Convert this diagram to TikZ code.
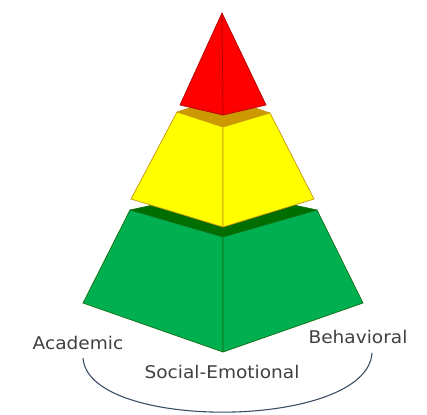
\documentclass[tikz,border=0pt]{standalone}
\usepackage{fontspec}
\setmainfont{DejaVu Sans}[FakeStretch=1.06]
\begin{document}
\begin{tikzpicture}[x=1pt,y=-1pt]

			% Styles
			\tikzset{
				face/.style={
					line join=round, line width=0.7pt,
					fill=#1,
				},
				label/.style={
					text=labelgray, inner sep=0pt,
					font=\fontsize{17.5}{20}\selectfont,
				},
			}

			% Colors
			\definecolor{redface}{RGB}{255,0,0}
			\definecolor{redline}{RGB}{180,0,0}
			\definecolor{yellowface}{RGB}{255,255,0}
			\definecolor{yellowtop}{RGB}{204,153,0}
			\definecolor{yellowline}{RGB}{200,150,20}
			\definecolor{greenface}{RGB}{0,176,80}
			\definecolor{greentop}{RGB}{0,110,0}
			\definecolor{greenline}{RGB}{20,110,20}
			\definecolor{labelgray}{RGB}{64,64,64}
			\definecolor{arcblue}{RGB}{60,78,100}

			\useasboundingbox (0,0) rectangle (427,414);

			% Green tier (bottom)
			\filldraw[face=greentop, draw=greenline] (130,210) -- (223,190) -- (317,210) -- (223,237) -- cycle;
			\filldraw[face=greenface, draw=greenline] (130,210) -- (223,237) -- (223,352) -- (83,303) -- cycle;
			\filldraw[face=greenface, draw=greenline] (317,210) -- (223,237) -- (223,352) -- (363,303) -- cycle;

			% Yellow tier (middle)
			\filldraw[face=yellowtop, draw=yellowline] (177,112) -- (223,97) -- (270,113) -- (223,127) -- cycle;
			\filldraw[face=yellowface, draw=yellowline] (177,112) -- (223,127) -- (223,227) -- (131,199) -- cycle;
			\filldraw[face=yellowface, draw=yellowline] (270,113) -- (223,127) -- (223,227) -- (314,199) -- cycle;

			% Red tier (top)
			\filldraw[face=redface, draw=redline] (222,13) -- (223,115) -- (180,105) -- cycle;
			\filldraw[face=redface, draw=redline] (222,13) -- (223,115) -- (266,105) -- cycle;

			% Labels
			\node[label] (academic) at (78,343) {Academic};
			\node[label] (behavioral) at (358,337) {Behavioral};
			\node[label] (social) at (222,372) {Social-Emotional};

			% Arc under the labels
			\draw[arcblue, line width=1.1pt] (83,358) .. controls (88,432) and (367,430) .. (372,353);

\end{tikzpicture}
\end{document}
